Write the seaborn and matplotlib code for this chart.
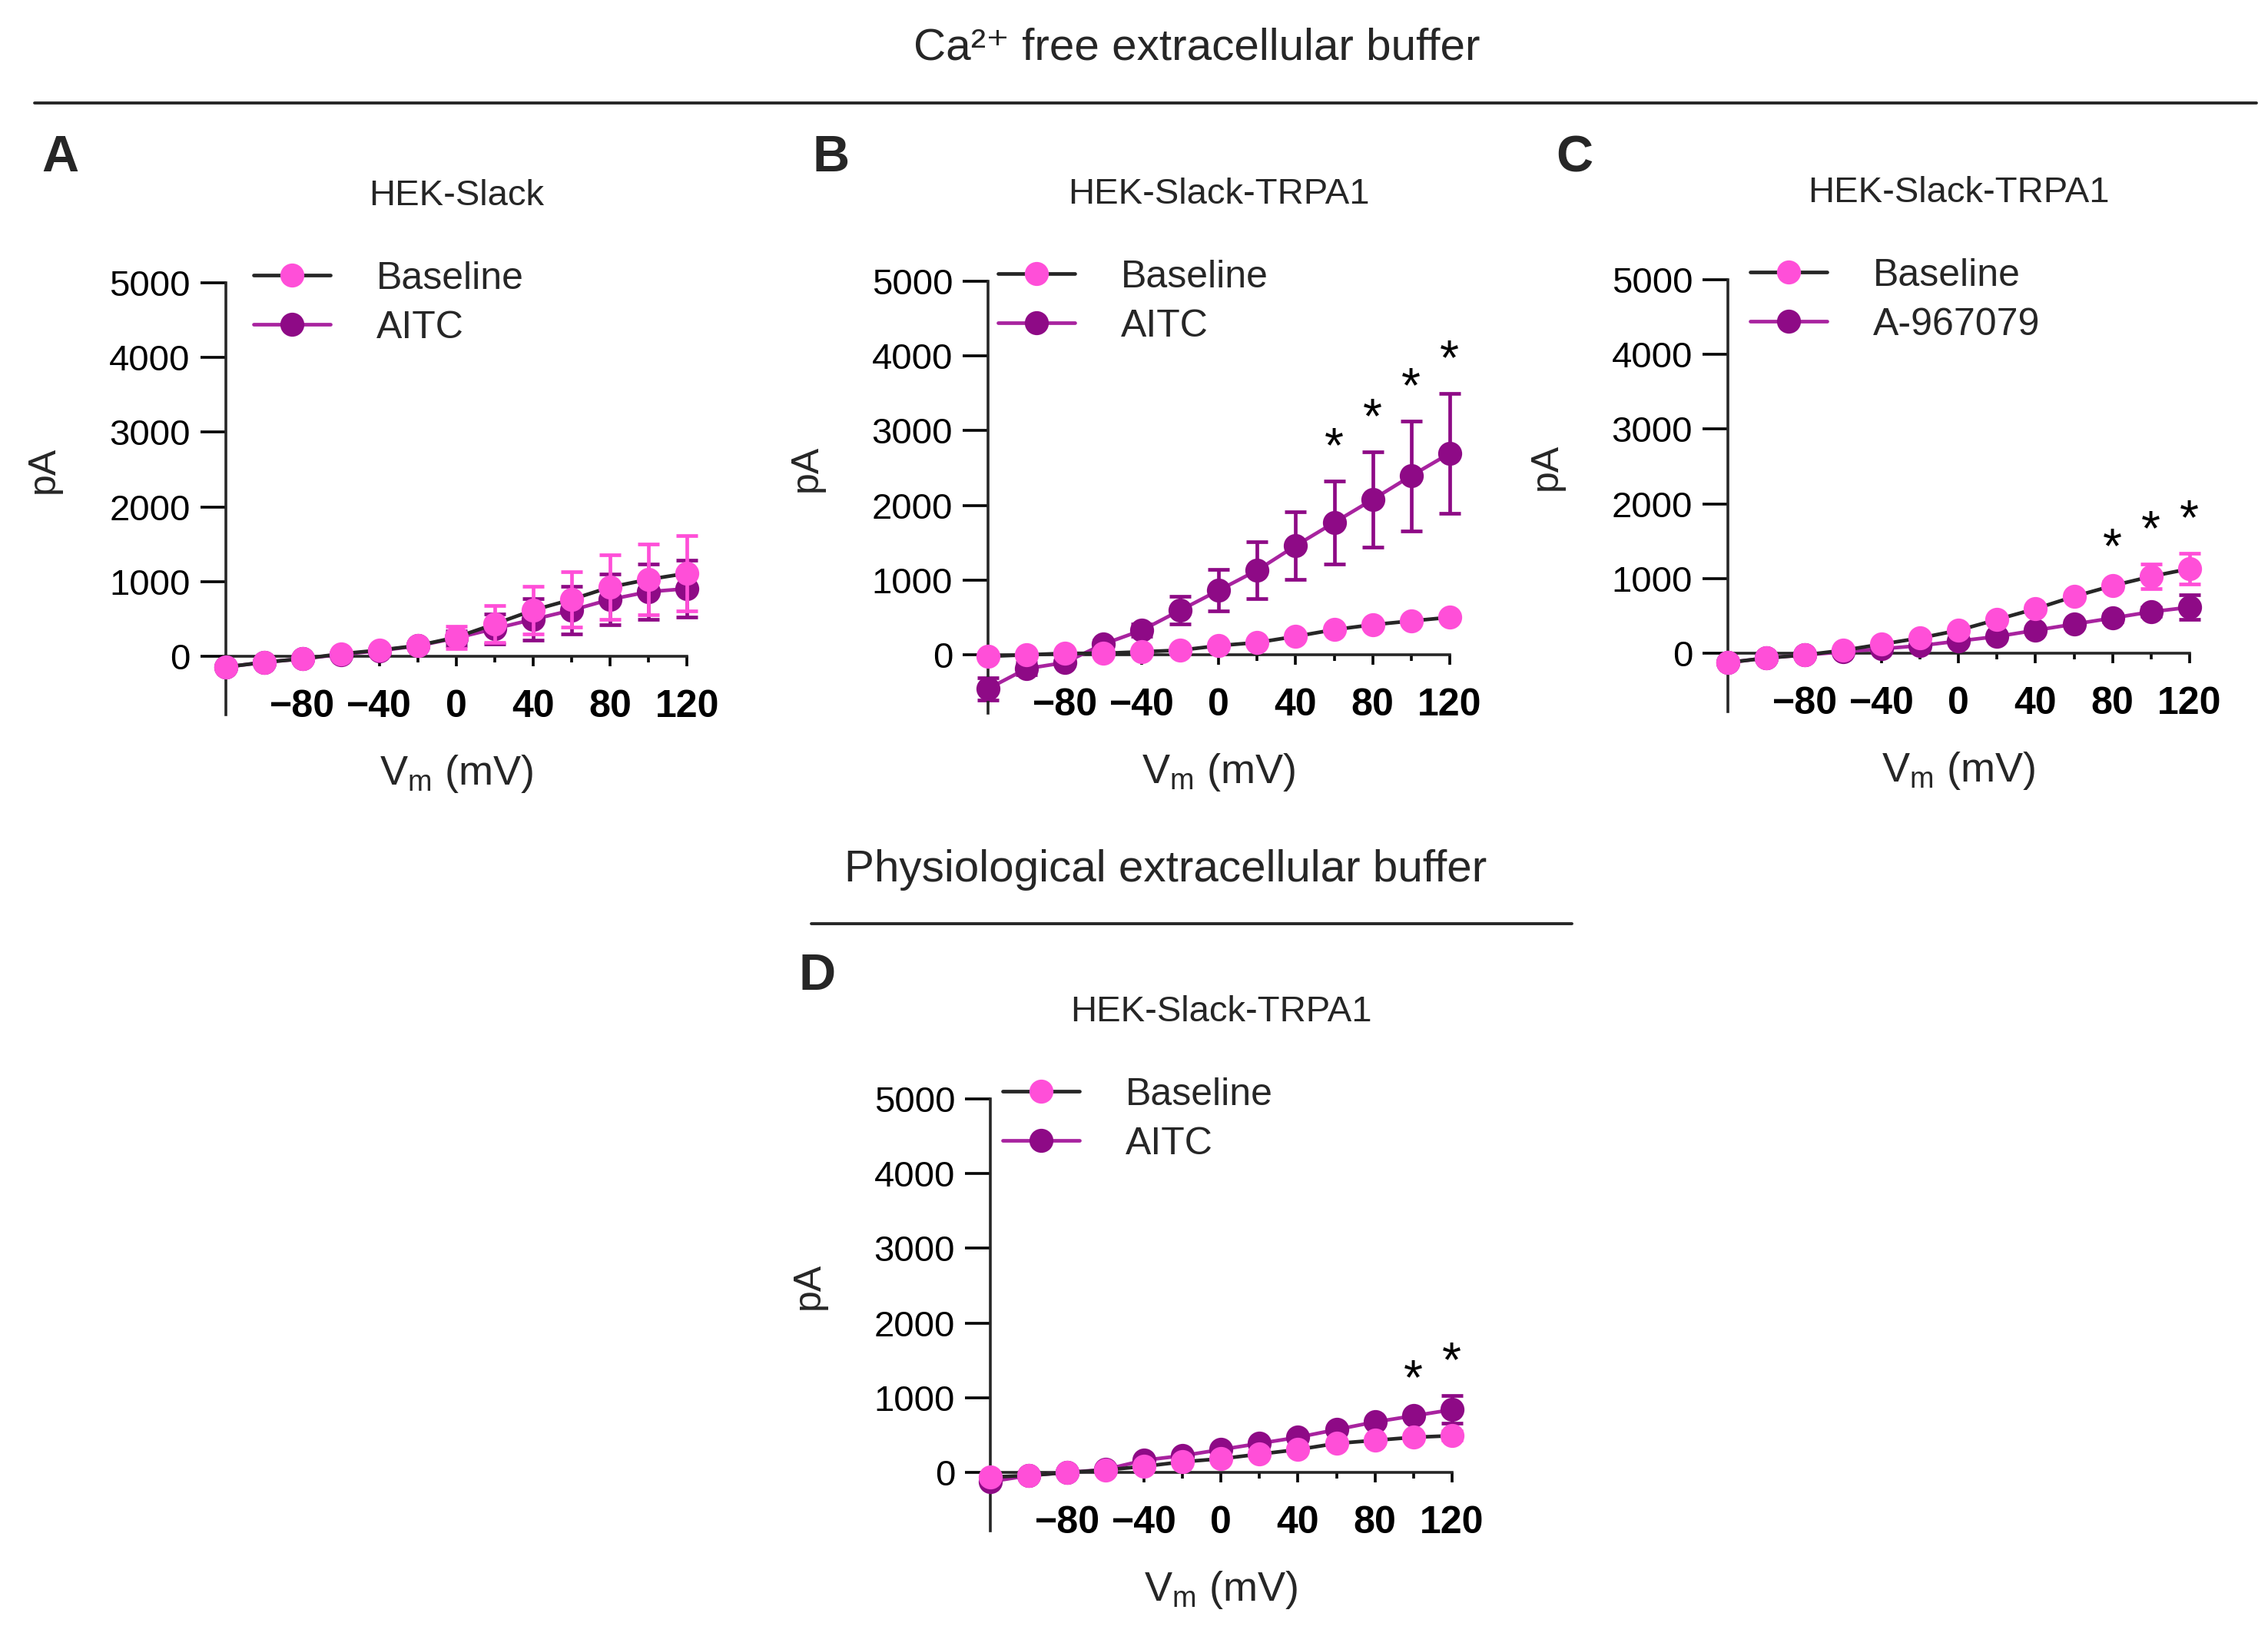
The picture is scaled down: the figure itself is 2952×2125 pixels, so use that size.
import numpy as np
import pandas as pd
import matplotlib.pyplot as plt
import seaborn as sns
from matplotlib.lines import Line2D

# Membrane potential steps (mV)
vm = [-120, -100, -80, -60, -40, -20, 0, 20, 40, 60, 80, 100, 120]

# Panel A: HEK-Slack, Ca2+ free buffer
a_base = [-144, -80, -33, 33, 82, 144, 255, 432, 617, 761, 926, 1029, 1111]
a_base_err = [20, 20, 20, 20, 20, 30, 150, 247, 320, 370, 430, 475, 500]
a_trt = [-144, -80, -33, 25, 75, 140, 245, 370, 494, 617, 761, 864, 905]
a_trt_err = [20, 20, 20, 20, 20, 30, 100, 200, 280, 320, 340, 370, 380]

# Panel B: HEK-Slack-TRPA1, AITC
b_base = [-20, 0, 20, 20, 41, 62, 123, 165, 247, 337, 403, 453, 502]
b_base_err = [20, 20, 20, 20, 20, 20, 20, 20, 20, 30, 30, 30, 40]
b_trt = [-453, -185, -103, 144, 329, 597, 864, 1132, 1461, 1770, 2078, 2395, 2695]
b_trt_err = [150, 80, 40, 50, 80, 185, 280, 382, 453, 555, 638, 733, 803]

# Panel C: HEK-Slack-TRPA1, A-967079
c_base = [-123, -62, -21, 41, 123, 206, 309, 453, 597, 761, 905, 1029, 1132]
c_base_err = [20, 20, 20, 20, 20, 20, 30, 30, 40, 40, 50, 165, 205]
c_trt = [-123, -62, -21, 20, 62, 103, 165, 226, 309, 391, 473, 556, 617]
c_trt_err = [20, 20, 20, 20, 20, 20, 20, 30, 30, 40, 50, 60, 165]

# Panel D: HEK-Slack-TRPA1, physiological buffer
d_base = [-61, -41, 0, 33, 82, 143, 184, 246, 307, 389, 430, 471, 492]
d_base_err = [20, 20, 20, 20, 20, 20, 20, 20, 30, 30, 40, 40, 60]
d_trt = [-123, -41, 0, 41, 164, 225, 307, 389, 471, 574, 676, 758, 840]
d_trt_err = [20, 20, 20, 20, 20, 20, 20, 30, 30, 40, 40, 40, 185]

# x positions marked with an asterisk
b_stars = [60, 80, 100, 120]
c_stars = [80, 100, 120]
d_stars = [100, 120]

PINK = "#ff4fd8"
PURPLE = "#8e0a86"
PURPLE_LINE = "#a8239f"
DARK = "#262626"

sns.set_theme(style="ticks")
plt.rcParams["font.family"] = ["Liberation Sans", "DejaVu Sans"]
plt.rcParams["axes.linewidth"] = 1.3

W, H = 2952, 2125
fig = plt.figure(figsize=(W / 200, H / 200), dpi=200)


def fx(px):
    return px / W


def fy(py):
    return 1 - py / H


MS = 10.5
LW = 1.7


def draw_panel(ax, base, base_err, trt, trt_err, trt_label, stars, title, leg_x):
    # treatment first so baseline sits on top
    df_t = pd.DataFrame({"Vm": vm, "pA": trt})
    ax.errorbar(vm, trt, yerr=trt_err, fmt="none", ecolor=PURPLE, elinewidth=LW,
                capsize=5.2, capthick=LW, clip_on=False, zorder=2)
    sns.lineplot(data=df_t, x="Vm", y="pA", ax=ax, color=PURPLE_LINE, lw=LW,
                 marker="o", markersize=MS, markerfacecolor=PURPLE,
                 markeredgecolor=PURPLE, label=trt_label, clip_on=False,
                 errorbar=None, zorder=3)
    df_b = pd.DataFrame({"Vm": vm, "pA": base})
    ax.errorbar(vm, base, yerr=base_err, fmt="none", ecolor=PINK, elinewidth=LW,
                capsize=5.2, capthick=LW, clip_on=False, zorder=4)
    sns.lineplot(data=df_b, x="Vm", y="pA", ax=ax, color=DARK, lw=LW,
                 marker="o", markersize=MS, markerfacecolor=PINK,
                 markeredgecolor=PINK, label="Baseline", clip_on=False,
                 errorbar=None, zorder=5)

    ax.set_xlim(-120, 120)
    ax.set_ylim(-780, 5000)
    ax.spines["bottom"].set_position(("data", 0))
    ax.spines["top"].set_visible(False)
    ax.spines["right"].set_visible(False)
    ax.set_xticks([-80, -40, 0, 40, 80, 120])
    ax.set_xticklabels(["\u221280", "\u221240", "0", "40", "80", "120"],
                       fontweight="bold")
    ax.set_xticks([-100, -60, -20, 20, 60, 100], minor=True)
    ax.set_yticks([0, 1000, 2000, 3000, 4000, 5000])
    ax.tick_params(axis="x", which="major", direction="out", length=4.5,
                   width=1.3, pad=11, labelsize=18, colors="black")
    ax.tick_params(axis="x", which="minor", direction="out", length=3,
                   width=1.3, colors="black")
    ax.tick_params(axis="y", direction="out", length=12, width=1.3, pad=4.5,
                   labelsize=17, colors="black")
    ax.set_xlabel("")
    ax.set_ylabel("pA", fontsize=18)
    ax.yaxis.set_label_coords(-0.355, (2500 + 780) / 5780)
    ax.text(0.5, -0.162, r"V$_\mathregular{m}$ (mV)", transform=ax.transAxes,
            ha="center", va="baseline", fontsize=19.5)
    ax.text(0.5, 1.18, title, transform=ax.transAxes, ha="center",
            va="baseline", fontsize=17)

    # significance marks above the higher error bar
    for s in stars:
        i = vm.index(s)
        top = max(base[i] + base_err[i], trt[i] + trt_err[i])
        ax.text(s, top + 430, "*", ha="center", va="center", fontsize=23,
                color="black", clip_on=False)

    handles, labels = ax.get_legend_handles_labels()
    ax.legend(handles[::-1], labels[::-1], loc="upper left",
              bbox_to_anchor=(leg_x, 1.05), frameon=False, fontsize=18,
              handlelength=2.0, handletextpad=1.2, labelspacing=0.36,
              borderpad=0, borderaxespad=0)


aw, ah = 0.2035, 0.2645
ax_a = fig.add_axes([fx(293.5), 0.5624, aw, ah])
ax_b = fig.add_axes([fx(1286), 0.5633, aw, ah])
ax_c = fig.add_axes([fx(2249), 0.5642, aw, ah])
ax_d = fig.add_axes([fx(1289), 0.0626, aw, ah])

draw_panel(ax_a, a_base, a_base_err, a_trt, a_trt_err, "AITC", [], "HEK-Slack", 0.061)
draw_panel(ax_b, b_base, b_base_err, b_trt, b_trt_err, "AITC", b_stars, "HEK-Slack-TRPA1", 0.022)
draw_panel(ax_c, c_base, c_base_err, c_trt, c_trt_err, "A-967079", c_stars, "HEK-Slack-TRPA1", 0.048)
draw_panel(ax_d, d_base, d_base_err, d_trt, d_trt_err, "AITC", d_stars, "HEK-Slack-TRPA1", 0.027)

# section headers and divider lines
fig.text(fx(1558), fy(78), "Ca\u00b2\u207a free extracellular buffer",
         ha="center", va="baseline", fontsize=21)
fig.add_artist(Line2D([fx(45), fx(2937)], [fy(134), fy(134)],
                      transform=fig.transFigure, color=DARK, lw=1.4))
fig.text(fx(1517), fy(1147), "Physiological extracellular buffer",
         ha="center", va="baseline", fontsize=21)
fig.add_artist(Line2D([fx(1056), fx(2046)], [fy(1202), fy(1202)],
                      transform=fig.transFigure, color=DARK, lw=1.4))

# panel letters
for letter, x, y in [("A", 54, 223), ("B", 1057, 223), ("C", 2025, 223), ("D", 1039, 1288)]:
    fig.text(fx(x), fy(y), letter, ha="left", va="baseline", fontsize=24,
             fontweight="bold")

fig.savefig("out.png", dpi=200, facecolor="white")
